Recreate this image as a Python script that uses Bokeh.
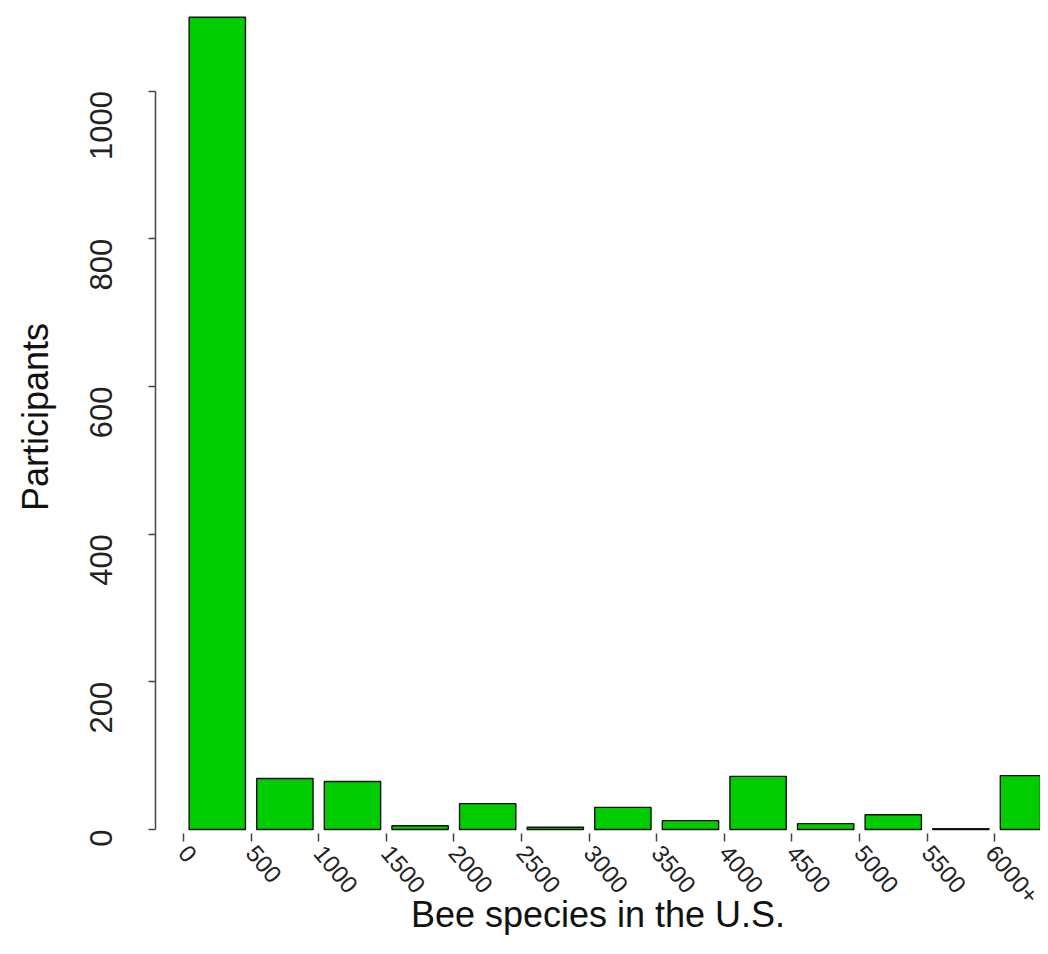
import math
from bokeh.plotting import figure
from bokeh.models import FixedTicker, Range1d, ColumnDataSource
from bokeh.embed import file_html
from bokeh.resources import INLINE

# Data
bins = ["0", "500", "1000", "1500", "2000", "2500", "3000",
        "3500", "4000", "4500", "5000", "5500", "6000+"]
participants = [1100, 69, 65, 5, 35, 3, 30, 12, 72, 8, 20, 1, 73]
y_ticks = [0, 200, 400, 600, 800, 1000]

FONT = "Liberation Sans"

# bar k occupies [k + 1/12, k + 11/12] (R barplot, space = 0.2), ticks at integers
xs = [k + 0.5 for k in range(len(participants))]
src = ColumnDataSource(dict(x=xs, top=participants))

p = figure(width=1040, height=938, output_backend="svg", toolbar_location=None,
           x_range=Range1d(-0.414, 12.678), y_range=Range1d(-5.4, 1122.6),
           min_border_left=155, min_border_right=0, min_border_top=0,
           min_border_bottom=105)
p.outline_line_color = None
p.xgrid.visible = False
p.ygrid.visible = False

p.vbar(x="x", top="top", bottom=0, width=1 / 1.2, source=src,
       fill_color="#00CC00", line_color="#111111", line_width=1.4)

# y axis
ya = p.yaxis[0]
ya.ticker = FixedTicker(ticks=y_ticks)
ya.bounds = (0, 1000)
ya.axis_line_color = "#444444"
ya.axis_line_width = 1.5
ya.major_tick_line_color = "#444444"
ya.major_tick_line_width = 1.5
ya.major_tick_out = 7
ya.major_tick_in = 0
ya.minor_tick_line_color = None
ya.major_label_orientation = math.pi / 2
ya.major_label_text_font = FONT
ya.major_label_text_font_size = "31px"
ya.major_label_text_color = "#222222"
ya.major_label_standoff = 47
ya.axis_label = "Participants"
ya.axis_label_text_font = FONT
ya.axis_label_text_font_size = "36px"
ya.axis_label_text_font_style = "normal"
ya.axis_label_text_color = "#111111"
ya.axis_label_standoff = 21

# x axis
xa = p.xaxis[0]
xa.ticker = FixedTicker(ticks=list(range(len(bins))))
xa.major_label_overrides = {i: b for i, b in enumerate(bins)}
xa.axis_line_color = None
xa.major_tick_line_color = "#444444"
xa.major_tick_line_width = 1.5
xa.major_tick_out = 8
xa.major_tick_in = 0
xa.minor_tick_line_color = None
xa.major_label_orientation = -math.radians(50)
xa.major_label_text_font = FONT
xa.major_label_text_font_size = "24px"
xa.major_label_text_color = "#222222"
xa.major_label_standoff = 7
xa.axis_label = "Bee species in the U.S."
xa.axis_label_text_font = FONT
xa.axis_label_text_font_size = "36px"
xa.axis_label_text_font_style = "normal"
xa.axis_label_text_color = "#111111"
xa.axis_label_standoff = -20

open("out.html", "w").write(file_html(p, INLINE))
